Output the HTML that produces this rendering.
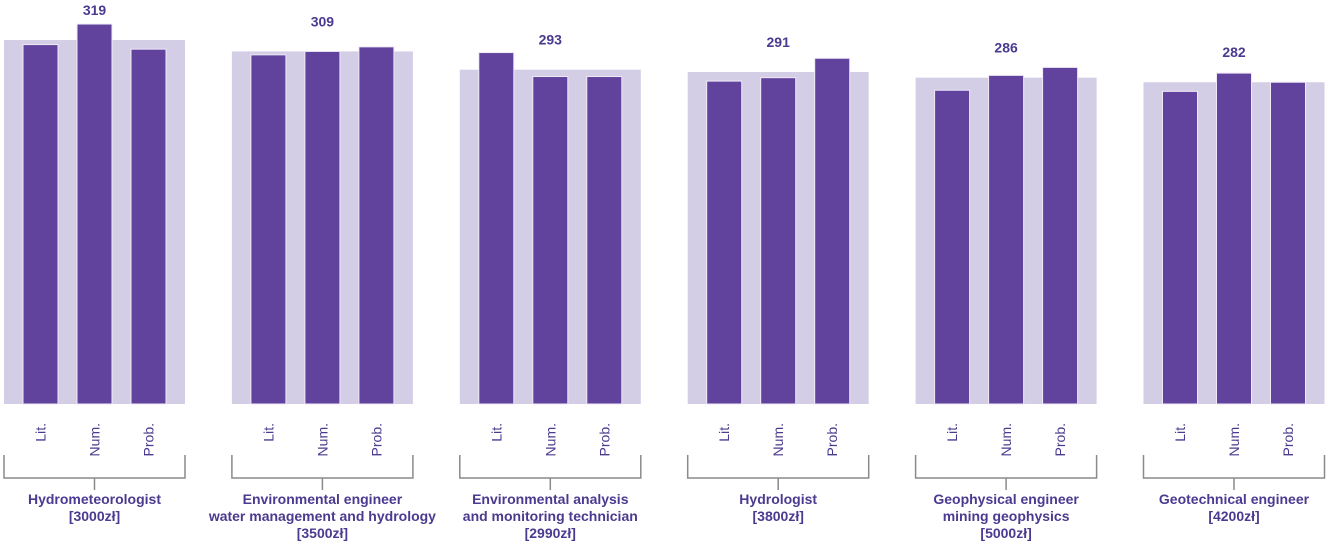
<!DOCTYPE html>
<html><head><meta charset="utf-8"><style>
html,body{margin:0;padding:0;background:#fff;}
svg{display:block;font-family:"Liberation Sans",sans-serif;}
</style></head><body>
<svg id="chart" width="1329" height="544" viewBox="0 0 1329 544"></svg>
<script>
const categories = [
  ["Hydrometeorologist","[3000zł]"],
  ["Environmental engineer","water management and hydrology","[3500zł]"],
  ["Environmental analysis","and monitoring technician","[2990zł]"],
  ["Hydrologist","[3800zł]"],
  ["Geophysical engineer","mining geophysics","[5000zł]"],
  ["Geotechnical engineer","[4200zł]"]
];
const subjects = ["Lit.","Num.","Prob."];
const totals = [319,309,293,291,286,282];
const litValues = [315,306,308,283,275,274];
const numValues = [333,309,287,286,288,290];
const probValues = [311,313,287,303,295,282];

const svg = document.getElementById('chart');
const NS = 'http://www.w3.org/2000/svg';
const baseY = 404, pxPerUnit = 1.141;
const yScale = v => baseY - v * pxPerUnit;
const groupX = i => 4 + i * 227.9;
const groupW = 181;
const barOff = [19, 73, 127], barW = 35;
const series = [litValues, numValues, probValues];
function mk(tag, attrs){const e=document.createElementNS(NS,tag);for(const k in attrs)e.setAttribute(k,attrs[k]);svg.appendChild(e);return e;}

categories.forEach((cat, i) => {
  const gx = groupX(i);
  const bg = mk('rect',{x:gx,y:yScale(totals[i]),width:groupW,height:baseY-yScale(totals[i]),fill:'#d3cde6'});
  
  
  series.forEach((s, j) => {
    const b = mk('rect',{x:gx+barOff[j],y:yScale(s[i]),width:barW,height:baseY-yScale(s[i]),fill:'#61429c',stroke:'#efeaf7','stroke-width':1});
    
    
    const cx = gx+barOff[j]+barW/2;
    const t = mk('text',{x:0,y:0,transform:`translate(${cx+5},423) rotate(-90)`,'text-anchor':'end','font-size':14,fill:'#4b3a8f'});
    t.textContent = subjects[j];
    
    
  });
  const v = mk('text',{x:gx+groupW/2,y:yScale(totals[i])-25,'text-anchor':'middle','font-size':14,'font-weight':'bold',fill:'#4b3a8f'});
  v.textContent = totals[i];
  
  
  const br = mk('path',{d:`M${gx} 455V478H${gx+groupW}V455M${gx+groupW/2} 478V490`,fill:'none',stroke:'#8a8a8a','stroke-width':1.5});
  
  
  cat.forEach((line, k) => {
    const t = mk('text',{x:gx+groupW/2,y:504+k*17,'text-anchor':'middle','font-size':14,'font-weight':'bold',fill:'#4b3a8f'});
    t.textContent = line;
    
    
  });
});
</script>
</body></html>
